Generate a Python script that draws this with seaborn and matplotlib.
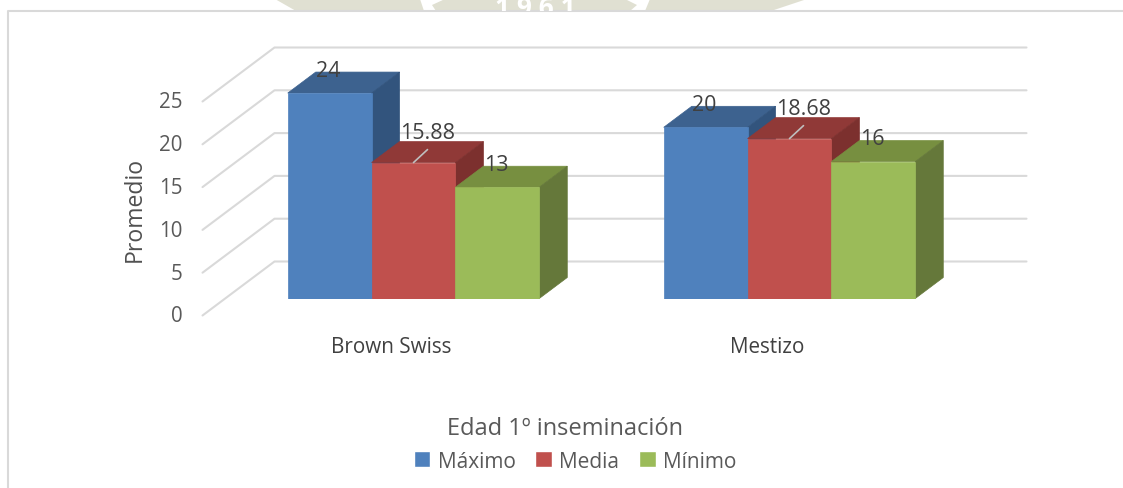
# Edad 1º inseminación - barras con efecto 3D
import matplotlib
matplotlib.use('Agg')
import matplotlib.pyplot as plt
from matplotlib.patches import Polygon
from matplotlib.transforms import Affine2D, Bbox
import numpy as np
import pandas as pd
import seaborn as sns

razas = ['Brown Swiss', 'Mestizo']
series = ['Máximo', 'Media', 'Mínimo']
maximo = [24, 20]
media = [15.88, 18.68]
minimo = [13, 16]
etiquetas = [['24', '20'], ['15.88', '18.68'], ['13', '16']]
ticks_y = [0, 5, 10, 15, 20, 25]

colores = ['#4F81BD', '#C0504D', '#9BBB59']
techos = ['#3D628F', '#903937', '#778F40']
lados = ['#32547D', '#7C302E', '#65783A']
gris_texto = '#595959'
W, H = 1123, 489

df = pd.DataFrame({
    'raza': razas * 3,
    'serie': [s for s in series for _ in razas],
    'valor': maximo + media + minimo,
})

sns.set_theme(style='white')
plt.rcParams['font.family'] = ['Open Sans', 'DejaVu Sans']

fig = plt.figure(figsize=(W / 100, H / 100), dpi=100)
# plano frontal de las barras, en pixeles de la imagen
x0, x1, y_abajo, y_arriba = 225.5, 977.5, 299.5, 85.5
ax = fig.add_axes([x0 / W, 1 - y_abajo / H, (x1 - x0) / W, (y_abajo - y_arriba) / H])
ax.patch.set_alpha(0)

sns.barplot(data=df, x='raza', y='valor', hue='serie', hue_order=series, order=razas,
            palette=colores, width=0.669, gap=0, saturation=1, errorbar=None, ax=ax, zorder=5)
ax.set_xlim(-0.5, 1.5)
ax.set_ylim(0, 25)
sns.despine(ax=ax, left=True, bottom=True)
ax.set_xlabel('')
ax.set_ylabel('Promedio', fontsize=16.6, color='#505050', labelpad=9, y=0.42)
ax.set_yticks(ticks_y)
ax.grid(False)
ax.tick_params(axis='y', length=0, pad=31, labelsize=14.8, labelcolor=gris_texto)
ax.tick_params(axis='x', length=0, pad=27, labelsize=14.9, labelcolor='#404040')
for lab in ax.get_yticklabels():
    lab.set_transform(lab.get_transform() + Affine2D().translate(0, -15))
for lab in ax.get_xticklabels():
    lab.set_transform(lab.get_transform() + Affine2D().translate(-22, 0))


def a_px(x, y):
    return ax.transData.transform((x, y))


# paredes del fondo: lineas de rejilla
fig.canvas.draw()
for v in ticks_y:
    izq = a_px(-0.5, v) + (-23, -17)
    fondo_izq = izq + (72, 54)
    fondo_der = fondo_izq + (752, 0)
    ax.plot([izq[0], fondo_izq[0], fondo_der[0]], [izq[1], fondo_izq[1], fondo_der[1]],
            transform=None, color='#D9D9D9', lw=1.5, zorder=1, clip_on=False)

# caras superiores y laterales de cada barra
dx, dy = 28, 21
for i, cont in enumerate(ax.containers):
    z = 6 + i * 2
    for j, rect in enumerate(cont):
        a = a_px(rect.get_x(), 0)
        b = a_px(rect.get_x() + rect.get_width(), rect.get_height())
        rect.set_zorder(z + 1)
        rect.set_edgecolor(colores[i])
        rect.set_linewidth(0.5)
        techo = [(a[0], b[1]), (b[0], b[1]), (b[0] + dx, b[1] + dy), (a[0] + dx, b[1] + dy)]
        lado = [(b[0], a[1]), (b[0] + dx, a[1] + dy), (b[0] + dx, b[1] + dy), (b[0], b[1])]
        ax.add_patch(Polygon(techo, closed=True, transform=None, fc=techos[i], ec=techos[i], lw=0.5, zorder=z, clip_on=False))
        ax.add_patch(Polygon(lado, closed=True, transform=None, fc=lados[i], ec=lados[i], lw=0.5, zorder=z, clip_on=False))
        # etiqueta de datos
        xc = (a[0] + b[0]) / 2
        if i == 1:
            ax.plot([xc, xc + 14], [b[1], b[1] + 13], transform=None, color='#BFBFBF', lw=1.2, zorder=30, clip_on=False)
            ax.text(xc + 14, b[1] + 30, etiquetas[i][j], transform=None, ha='center', va='center',
                    fontsize=15.4, color='#404040', zorder=31)
        else:
            ax.text(xc - 1, b[1] + 23, etiquetas[i][j], transform=None, ha='center', va='center',
                    fontsize=15.4, color='#404040', zorder=31)

sns.move_legend(ax, 'upper center', bbox_to_anchor=(575 / W, 1 - 398.5 / H), bbox_transform=fig.transFigure,
                ncol=3, title='Edad 1º inseminación', frameon=False, fontsize=15, title_fontsize=17,
                columnspacing=0.95, handlelength=0.8, handleheight=0.8, handletextpad=0.35, labelcolor=gris_texto)
titulo = ax.get_legend().get_title()
titulo.set_color(gris_texto)
titulo.set_position((-10, 0))

# marca de agua cortada arriba
fig.add_artist(Polygon([(275 / W, 1), (807 / W, 1), (771 / W, 1 - 12 / H), (296 / W, 1 - 12 / H)],
                       closed=True, transform=fig.transFigure, fc='#E0E0D2', ec='none'))
for arco in ([(420, 0), (445, 0), (432, 6), (436, 12), (424, 12)], [(650, 0), (625, 0), (637, 6), (630, 12), (645, 12)]):
    fig.add_artist(Polygon([(px / W, 1 - py / H) for px, py in arco], closed=True, transform=fig.transFigure,
                           fc='white', ec='none'))
sello = fig.text(535 / W, 1 - 8 / H, '1 9 6 1', ha='center', va='center', fontsize=19, fontweight='bold', color='white')
sello.set_clip_box(Bbox([[0, H - 12], [W, H]]))
sello.set_clip_on(True)

# marco del grafico
fig.add_artist(plt.Line2D([8 / W, 8 / W, 1], [0, 1 - 12 / H, 1 - 12 / H], color='#D9D9D9', lw=1.5))

fig.savefig('out.png', dpi=100)
